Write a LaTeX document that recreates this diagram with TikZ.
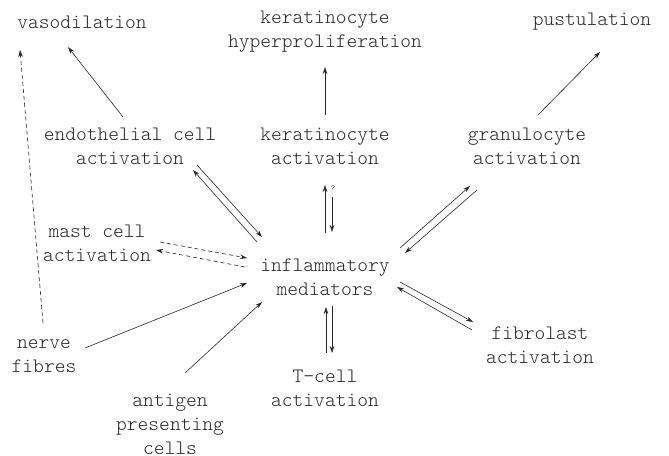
\documentclass[tikz,border=0pt]{standalone}
\usetikzlibrary{arrows.meta}
\begin{document}
\begin{tikzpicture}[x=1pt,y=-1pt,
  lbl/.style={inner sep=0pt,align=center,text=black!85,
    font=\fontsize{20.5}{24}\ttfamily\fontseries{l}\selectfont},
  arr/.style={line width=0.6pt,draw=black!85,-{Stealth[length=7pt,width=4.5pt]}},
  darr/.style={arr,dash pattern=on 4pt off 3pt}]
\useasboundingbox (0,0) rectangle (669,455);
\node[lbl] (vaso) at (82,22) {vasodilation};
\node[lbl] (khyp) at (325,32) {keratinocyte\\hyperproliferation};
\node[lbl] (pust) at (592,22) {pustulation};
\node[lbl] (endo) at (130,146) {endothelial cell\\activation};
\node[lbl] (kact) at (325,146) {keratinocyte\\activation};
\node[lbl] (gran) at (527,146) {granulocyte\\activation};
\node[lbl] (mast) at (97,243) {mast cell\\activation};
\node[lbl] (med) at (325,277) {inflammatory\\mediators};
\node[lbl] (nerve) at (44,356) {nerve\\fibres};
\node[lbl] (fibro) at (540,345) {fibrolast\\activation};
\node[lbl] (tcell) at (325,388) {T-cell\\activation};
\node[lbl] (apc) at (170,424) {antigen\\presenting\\cells};
% outputs
\draw[arr] ([shift={(-7,-29)}]endo.center) -- ([shift={(-14,25)}]vaso.center);
\draw[arr] ([shift={(0,-31)}]kact.center) -- ([shift={(0,35)}]khyp.center);
\draw[arr] ([shift={(11,-31)}]gran.center) -- ([shift={(8,30)}]pust.center);
% endothelial <-> mediators
\draw[arr] ([shift={(67,19)}]endo.center) -- ([shift={(-63,-40)}]med.center);
\draw[arr] ([shift={(-68,-35)}]med.center) -- ([shift={(63,24)}]endo.center);
% keratinocyte <-> mediators
\draw[arr] ([shift={(0,-44)}]med.center) -- ([shift={(0,39)}]kact.center);
\draw[arr] ([shift={(7,51)}]kact.center) -- ([shift={(7,-45)}]med.center);
\node[inner sep=0pt,font=\fontsize{9}{10}\ttfamily,text=black!80] (q) at (333,189) {?};
% granulocyte <-> mediators
\draw[arr] ([shift={(75,-29)}]med.center) -- ([shift={(-57,40)}]gran.center);
\draw[arr] ([shift={(-50,44)}]gran.center) -- ([shift={(80,-24)}]med.center);
% mediators <-> fibroblast
\draw[arr] ([shift={(75,5)}]med.center) -- ([shift={(-67,-23)}]fibro.center);
\draw[arr] ([shift={(-68,-15)}]fibro.center) -- ([shift={(72,10)}]med.center);
% mediators <-> T-cell
\draw[arr] ([shift={(1,-35)}]tcell.center) -- ([shift={(1,30)}]med.center);
\draw[arr] ([shift={(7,29)}]med.center) -- ([shift={(7,-35)}]tcell.center);
% mast cell <-> mediators (dashed)
\draw[darr] ([shift={(63,-1)}]mast.center) -- ([shift={(-78,-19)}]med.center);
\draw[darr] ([shift={(-80,-10)}]med.center) -- ([shift={(59,7)}]mast.center);
% nerve fibres
\draw[darr] ([shift={(-1,-33)}]nerve.center) -- ([shift={(-62,28)}]vaso.center);
\draw[arr] ([shift={(41,-8)}]nerve.center) -- ([shift={(-78,6)}]med.center);
% antigen presenting cells
\draw[arr] ([shift={(15,-51)}]apc.center) -- ([shift={(-63,25)}]med.center);
\end{tikzpicture}
\end{document}
